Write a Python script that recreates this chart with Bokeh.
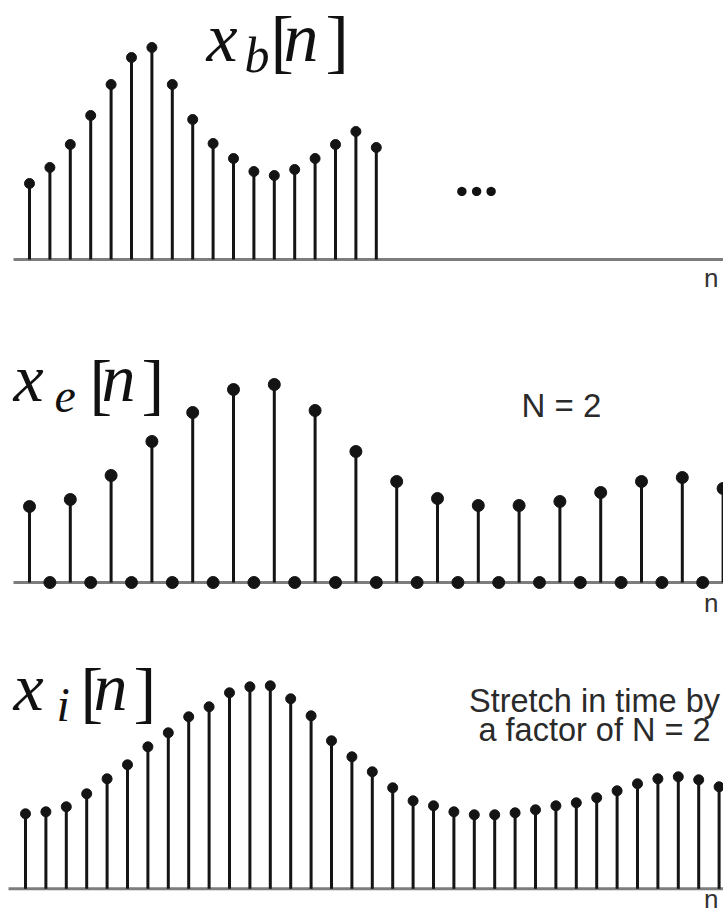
from bokeh.plotting import figure
from bokeh.models import Range1d, Label
from bokeh.layouts import column
from bokeh.embed import file_html
from bokeh.resources import INLINE

# ---------------- data ----------------
# x_b[n]: original signal, n = 0..17
xb_values = [3.8, 4.6, 5.75, 7.2, 8.75, 10.1, 10.6, 8.75, 7.0, 5.8,
             5.05, 4.4, 4.2, 4.5, 5.05, 5.75, 6.4, 5.6]
# x_e[n]: expanded signal, non-zero samples at even n (zeros in between)
xe_values = [3.8, 4.15, 5.35, 7.05, 8.5, 9.65, 9.9, 8.6, 6.55, 5.05,
             4.2, 3.85, 3.85, 4.05, 4.5, 5.05, 5.25, 4.7]
# x_i[n]: interpolated signal, n = 0..34
xi_values = [3.75, 3.85, 4.1, 4.75, 5.5, 6.2, 7.1, 7.8, 8.6, 9.1,
             9.8, 10.1, 10.15, 9.5, 8.65, 7.4, 6.6, 5.85, 5.05, 4.4,
             4.15, 3.85, 3.7, 3.7, 3.8, 3.95, 4.15, 4.3, 4.55, 4.9,
             5.25, 5.5, 5.6, 5.45, 5.1]
axis_label = "n"
expand_note = "N = 2"
stretch_note = ["Stretch in time by", "a factor of N = 2"]

# ---------------- layout / style ----------------
W = 723
LEFT, RIGHT = 0, 723
DX, DY = 20.4, 20.0
PANELS = [
    dict(top=0, bottom=300, x0=29, base=259, line_from=13),
    dict(top=300, bottom=620, x0=29, base=582, line_from=13),
    dict(top=620, bottom=916, x0=25, base=888.3, line_from=8),
]
STEM = "#141414"
BASE = "#7d7d7d"
SANS = "Liberation Sans"
SERIF = "Liberation Serif"
BASELINE_FIX = 0.37   # renderer places alphabetic baseline ~0.37em lower


def make_fig(cfg):
    xs = (LEFT - cfg["x0"]) / DX
    xe = (RIGHT - cfg["x0"]) / DX
    ys = -(cfg["bottom"] - cfg["base"]) / DY
    ye = (cfg["base"] - cfg["top"]) / DY
    p = figure(width=W, height=cfg["bottom"] - cfg["top"],
               x_range=Range1d(xs, xe), y_range=Range1d(ys, ye),
               output_backend="svg", toolbar_location=None,
               x_axis_location=None, y_axis_location=None,
               min_border=0, outline_line_color=None,
               background_fill_color="white", border_fill_color="white")
    p.grid.grid_line_color = None
    # horizontal baseline (n axis)
    p.segment(x0=[(cfg["line_from"] - cfg["x0"]) / DX], y0=[0],
              x1=[xe + 1], y1=[0], line_color=BASE, line_width=3)

    def to_data(rx, ry):
        return xs + (rx - LEFT) / DX, ye - (ry - cfg["top"]) / DY

    return p, to_data


def label(p, conv, rx, ry, text, size, font=SERIF, style="italic",
          align="left", color="#111111"):
    x, y = conv(rx, ry - BASELINE_FIX * size)
    p.add_layout(Label(x=x, y=y, text=text, text_font=font,
                       text_font_size=f"{size}px", text_font_style=style,
                       text_align=align, text_baseline="alphabetic",
                       text_color=color))


def stems(p, n, v, size):
    nz = [(a, b) for a, b in zip(n, v) if b != 0]
    p.segment(x0=[a for a, _ in nz], y0=[0] * len(nz),
              x1=[a for a, _ in nz], y1=[b for _, b in nz],
              line_color=STEM, line_width=3)
    p.scatter(n, v, size=size, color=STEM)


# ---- panel 1: x_b[n]
p1, c1 = make_fig(PANELS[0])
n_b = list(range(len(xb_values)))
stems(p1, n_b, xb_values, 10)
label(p1, c1, 206, 63, "x", 70)
label(p1, c1, 244, 73, "b", 50)
label(p1, c1, 270, 67, "[", 70, style="normal")
label(p1, c1, 283, 63, "n", 70)
label(p1, c1, 325, 67, "]", 70, style="normal")
label(p1, c1, 476, 196, "...", 62, font="Lato", style="bold", align="center",
      color="#111111")
label(p1, c1, 718, 287, axis_label, 26, font=SANS, style="normal",
      align="right", color="#333333")

# ---- panel 2: x_e[n]
p2, c2 = make_fig(PANELS[1])
n_e = list(range(2 * len(xe_values) - 1))
xe_full = [xe_values[k // 2] if k % 2 == 0 else 0 for k in n_e]
stems(p2, n_e, xe_full, 12)
label(p2, c2, 13, 403, "x", 68)
label(p2, c2, 54, 413, "e", 48)
label(p2, c2, 89, 409, "[", 68, style="normal")
label(p2, c2, 101, 403, "n", 68)
label(p2, c2, 141, 409, "]", 68, style="normal")
label(p2, c2, 561, 417, expand_note, 33, font=SANS, style="normal",
      align="center", color="#2a2a2a")
label(p2, c2, 718, 612, axis_label, 26, font=SANS, style="normal",
      align="right", color="#333333")

# ---- panel 3: x_i[n]
p3, c3 = make_fig(PANELS[2])
n_i = list(range(len(xi_values)))
stems(p3, n_i, xi_values, 10)
label(p3, c3, 13, 712, "x", 68)
label(p3, c3, 56, 722, "i", 48)
label(p3, c3, 80, 717, "[", 68, style="normal")
label(p3, c3, 93, 712, "n", 68)
label(p3, c3, 133, 717, "]", 68, style="normal")
label(p3, c3, 594, 713, stretch_note[0], 32.5, font=SANS, style="normal",
      align="center", color="#2a2a2a")
label(p3, c3, 594, 742, stretch_note[1], 32.5, font=SANS, style="normal",
      align="center", color="#2a2a2a")
label(p3, c3, 718, 908, axis_label, 26, font=SANS, style="normal",
      align="right", color="#333333")

layout = column(p1, p2, p3, spacing=0)
open("out.html", "w").write(file_html(layout, INLINE))
